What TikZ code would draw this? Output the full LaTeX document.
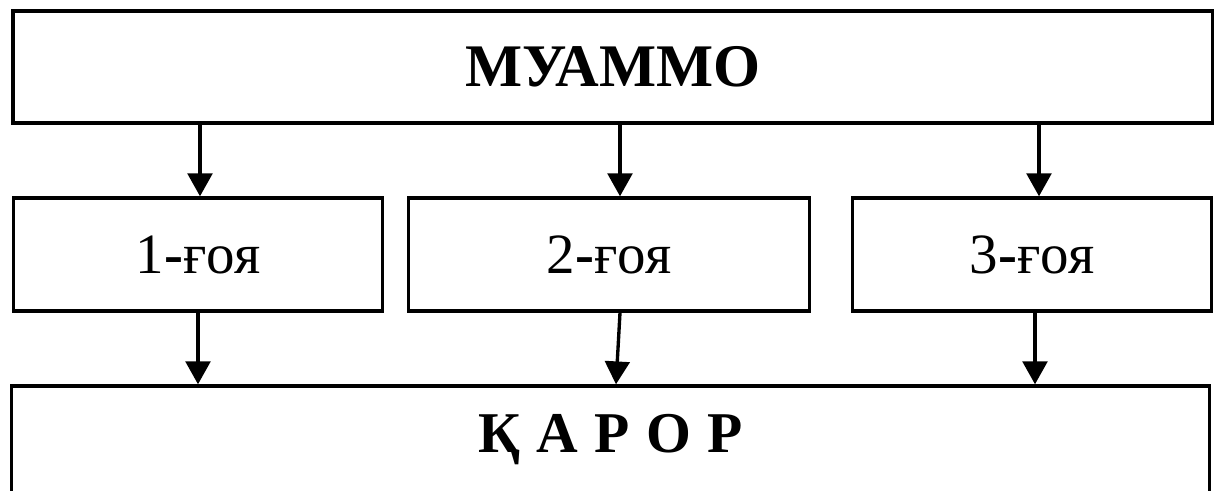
\documentclass[tikz,border=0pt]{standalone}
\usepackage{fontspec}
\setmainfont{Liberation Serif}
\usetikzlibrary{arrows.meta,positioning}

\tikzset{
  box/.style={draw, line width=0.95pt, rectangle, inner sep=0pt},
  bigbox/.style={box, minimum width=11.99cm, minimum height=1.12cm,
    font=\fontsize{17.2}{18}\selectfont\bfseries},
  idea/.style={box, minimum height=1.13cm,
    font=\fontsize{16.2}{18}\selectfont},
  link/.style={line width=0.95pt, -{Triangle[length=6.5pt,width=7pt]}}
}
\newcommand{\gap}{\hspace{4.7pt}}

\begin{document}
\begin{tikzpicture}[x=0.01cm,y=-0.01cm]
  \useasboundingbox (0,0) rectangle (1214,491);

  \node[bigbox] (problem) at (613,67) {МУАММО};

  \node[idea, minimum width=3.69cm] (idea1) at (198,254.5) {1{\bfseries -}ғоя};
  \node[idea, minimum width=4.01cm] (idea2) at (609,254.5) {2{\bfseries -}ғоя};
  \node[idea, minimum width=3.59cm] (idea3) at (1032,254.5) {3{\bfseries -}ғоя};

  \node[bigbox, minimum width=11.97cm, minimum height=1.08cm,
    font=\fontsize{16.4}{18}\selectfont\bfseries] (decision) at (610.5,440)
    {Қ\gap А\gap Р\gap О\gap Р};

  % problem -> ideas
  \draw[link] ([xshift=0.02cm]idea1.north |- problem.south) -- ([xshift=0.02cm]idea1.north);
  \draw[link] ([xshift=0.11cm]idea2.north |- problem.south) -- ([xshift=0.11cm]idea2.north);
  \draw[link] ([xshift=0.07cm]idea3.north |- problem.south) -- ([xshift=0.07cm]idea3.north);

  % ideas -> decision
  \draw[link] (idea1.south) -- (idea1.south |- decision.north);
  \draw[link] ([xshift=0.11cm]idea2.south) -- ([xshift=0.07cm]idea2.south |- decision.north);
  \draw[link] ([xshift=0.03cm]idea3.south) -- ([xshift=0.03cm]idea3.south |- decision.north);
\end{tikzpicture}
\end{document}
